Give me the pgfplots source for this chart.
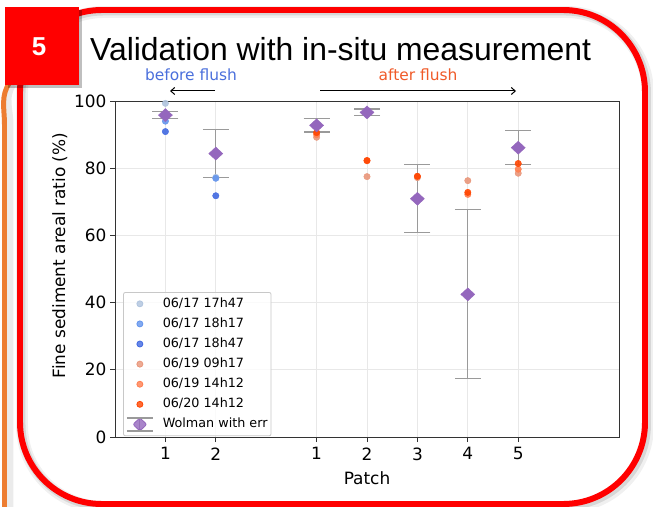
\documentclass[border=0pt]{standalone}
\usepackage{pgfplots}
\pgfplotsset{compat=1.18}
\usepackage{fontspec}
\setmainfont{DejaVu Sans}
\newfontfamily\arial{Liberation Sans}
\usetikzlibrary{arrows.meta}
\definecolor{cA}{HTML}{B0C4DE}
\definecolor{cB}{HTML}{6495ED}
\definecolor{cC}{HTML}{4169E1}
\definecolor{cD}{HTML}{E9967A}
\definecolor{cE}{HTML}{FF7F50}
\definecolor{cF}{HTML}{FF4500}
\definecolor{purp}{HTML}{9467BD}
\definecolor{errc}{HTML}{9A9A9A}
\definecolor{gridc}{HTML}{E8E8E8}
\definecolor{axc}{HTML}{333333}
\definecolor{legc}{HTML}{C8C8C8}
\definecolor{orng}{HTML}{ED7D31}
\definecolor{bluet}{HTML}{4A6FDC}
\definecolor{oranget}{HTML}{F05A28}
\definecolor{slidered}{HTML}{FF0000}
\pgfplotsset{
  pt/.style={only marks, mark=*, mark size=3.2bp, color=#1, mark options={draw=none, fill=#1, fill opacity=0.9},
    legend image code/.code={\fill[#1] (14bp,0bp) circle (3bp); \path (0bp,0bp) (35bp,0bp);}},
}
\begin{document}
\begin{tikzpicture}[x=1bp,y=1bp]
\useasboundingbox (0,0) rectangle (653,-507);
\fill[white] (0,0) rectangle (653,-507);
% left orange edge of previous slide
\draw[line width=9, black, opacity=0.08] (12,-84) to[out=235,in=90] (9,-125) -- (9,-512);
\draw[line width=5, orng] (10,-82) to[out=235,in=90] (4.5,-125) -- (4.5,-512);
% frame shadow
\draw[line width=12, black, opacity=0.06, rounded corners=82] (22,-12) rectangle (648,-507);
\draw[line width=8, black, opacity=0.10, rounded corners=82] (21.5,-11.5) rectangle (647,-506);
% red frame
\draw[line width=6, slidered, rounded corners=82] (20,-10) rectangle (645,-504);
% number box
\fill[black, opacity=0.25] (8,-10) rectangle (82,-88);
\fill[slidered] (5,-7) rectangle (79,-85);
\node[text=white, font=\arial\bfseries\fontsize{26}{30}\selectfont] at (39,-47) {5};
% title
\node[anchor=base west, inner sep=0, font=\arial\fontsize{32}{36}\selectfont] at (90,-61) {Validation with in-situ measurement};
% annotations
\node[text=bluet, font=\fontsize{15.5}{18}\selectfont] at (191,-75) {before flush};
\node[text=oranget, font=\fontsize{15.5}{18}\selectfont] at (418,-75) {after flush};
\draw[line width=1, -{Straight Barb[length=4bp,width=7bp]}] (215,-91) -- (170,-91);
\draw[line width=1, -{Straight Barb[length=4bp,width=7bp]}] (320,-91) -- (516,-91);
\begin{axis}[
  at={(115bp,-437bp)}, anchor=south west,
  width=504bp, height=336bp, scale only axis,
  xmin=0, xmax=10, ymin=0, ymax=100,
  xtick={1,2,4,5,6,7,8}, xticklabels={1,2,1,2,3,4,5},
  ytick={0,20,40,60,80,100},
  grid=major, grid style={color=gridc, line width=0.8bp},
  axis line style={color=axc, line width=1bp},
  tick align=outside, major tick length=5bp, tick style={color=axc, line width=1bp},
  xtick pos=bottom, ytick pos=left,
  ticklabel style={font=\fontsize{17}{20}\selectfont},
  xticklabel style={yshift=-2bp},
  /pgf/number format/assume math mode=true,
  xlabel={Patch}, ylabel={Fine sediment areal ratio (\%)},
  label style={font=\fontsize{17}{20}\selectfont},
  xlabel style={yshift=-4bp},
  ylabel style={at={(ticklabel cs:0.54)}},
  legend cell align=left,
  legend style={at={(0.016,0.4315)}, anchor=north west, draw=legc, line width=0.8bp, rounded corners=2bp,
    fill=white, fill opacity=0.8, draw opacity=1, text opacity=1, font=\fontsize{12.8}{15}\selectfont,
    inner xsep=2bp, inner ysep=4bp, row sep=5.3bp,
    nodes={inner sep=1.5bp, text height=9.3bp, text depth=2.5bp}},
]
\addplot[pt=cA] coordinates {(1,99.3) (2,77.3)};
\addlegendentry{06/17 17h47}
\addplot[pt=cB] coordinates {(1,94.0) (2,77.0)};
\addlegendentry{06/17 18h17}
\addplot[pt=cC] coordinates {(1,90.9) (2,71.8)};
\addlegendentry{06/17 18h47}
\addplot[pt=cD] coordinates {(4,89.2) (5,77.5) (6,77.2) (7,76.3) (8,78.5)};
\addlegendentry{06/19 09h17}
\addplot[pt=cE] coordinates {(4,90.0) (5,82.2) (6,77.5) (7,72.2) (8,79.7)};
\addlegendentry{06/19 14h12}
\addplot[pt=cF] coordinates {(4,90.6) (5,82.3) (6,77.6) (7,72.8) (8,81.4)};
\addlegendentry{06/20 14h12}
\addplot[only marks, mark=diamond*, mark size=6.5bp, color=purp,
  mark options={xscale=1.44, fill=purp, draw=purp},
  error bars/.cd, y dir=both, y explicit, error mark=-,
  error mark options={rotate=90, errc, line width=1.2bp, mark size=13bp},
  error bar style={errc, line width=1.2bp},
  /pgfplots/legend image code/.code={
    \draw[errc, line width=1.2bp] (1bp,-6.5bp)--(27bp,-6.5bp) (1bp,6.5bp)--(27bp,6.5bp) (14bp,-6.5bp)--(14bp,6.5bp);
    \fill[purp] (7bp,0bp)--(14bp,6.5bp)--(21bp,0bp)--(14bp,-6.5bp)--cycle;
    \path (0bp,0bp) (35bp,0bp);}
] table[x=x, y=y, y error=e] {
x y e
1 95.8 1.0
2 84.35 7.05
4 92.75 1.95
5 96.6 1.0
6 70.9 10.1
7 42.45 25.15
8 86.1 5.1
};
\addlegendentry{Wolman with err}
\end{axis}
\end{tikzpicture}
\end{document}
